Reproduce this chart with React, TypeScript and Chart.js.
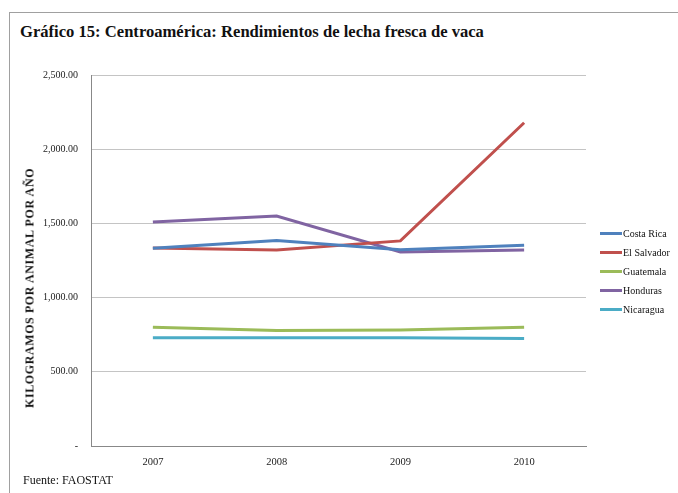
import React, { useEffect, useRef } from "react";
import { Chart, registerables } from "chart.js";

Chart.register(...registerables);

const years = ["2007", "2008", "2009", "2010"];
const costaRica = [1332, 1384, 1323, 1353];
const elSalvador = [1334, 1321, 1382, 2178];
const guatemala = [801, 778, 781, 801];
const honduras = [1509, 1550, 1307, 1321];
const nicaragua = [729, 729, 729, 724];

const seriesNames = ["Costa Rica", "El Salvador", "Guatemala", "Honduras", "Nicaragua"];
const seriesColors = ["#4F81BD", "#C0504D", "#9BBB59", "#8064A2", "#4BACC6"];
const seriesData = [costaRica, elSalvador, guatemala, honduras, nicaragua];

const FONT = "'Liberation Serif', 'DejaVu Serif', serif";

export default function App() {
  const ref = useRef<HTMLCanvasElement | null>(null);

  useEffect(() => {
    if (!ref.current) return;
    const chart = new Chart(ref.current, {
      type: "line",
      data: {
        labels: years,
        datasets: seriesNames.map((n, i) => ({
          label: n,
          data: seriesData[i],
          borderColor: seriesColors[i],
          backgroundColor: seriesColors[i],
          borderWidth: 3,
          pointRadius: 0,
          tension: 0,
        })),
      },
      options: {
        animation: false,
        responsive: false,
        maintainAspectRatio: false,
        layout: { padding: { top: 75, right: 92, bottom: 27, left: 0 } },
        plugins: { legend: { display: false }, tooltip: { enabled: false } },
        scales: {
          x: {
            offset: true,
            grid: { display: false, drawTicks: false },
            border: { display: true, color: "#888888", width: 1 },
            ticks: { color: "#222", font: { family: FONT, size: 10.5 }, padding: 10 },
            afterFit: (s: any) => { s.height = 20; },
          },
          y: {
            min: 0,
            max: 2500,
            grid: { color: "#c4c4c4", drawTicks: false },
            border: { display: true, color: "#888888", width: 1 },
            ticks: {
              stepSize: 500,
              color: "#222",
              font: { family: FONT, size: 10 },
              padding: 13,
              callback: (v: any) =>
                Number(v) === 0
                  ? "-"
                  : Number(v).toLocaleString("en-US", { minimumFractionDigits: 2, maximumFractionDigits: 2 }),
            },
            afterFit: (s: any) => { s.width = 91; },
          },
        },
      },
    });
    return () => chart.destroy();
  }, []);

  return (
    <div style={{ position: "absolute", left: 0, top: 0, width: 678, height: 493, background: "#fff", overflow: "hidden", fontFamily: FONT }}>
      <div style={{ position: "absolute", left: 9, top: 12, width: 700, height: 500, borderLeft: "1px solid #a0a0a0", borderTop: "1px solid #a0a0a0" }} />
      <div style={{ position: "absolute", left: 20, top: 22, fontSize: 16.6, fontWeight: "bold", color: "#111", whiteSpace: "nowrap" }}>
        Gráfico 15: Centroamérica: Rendimientos de lecha fresca de vaca
      </div>
      <canvas ref={ref} width={678} height={493} style={{ position: "absolute", left: 0, top: 0, width: 678, height: 493 }} />
      <div style={{ position: "absolute", left: 30, top: 288, width: 0, height: 0 }}>
        <div style={{ position: "absolute", transform: "translate(-50%, -50%) rotate(-90deg)", whiteSpace: "nowrap", fontSize: 12, letterSpacing: 0.6, fontWeight: "bold", color: "#111" }}>
          KILOGRAMOS POR ANIMAL POR AÑO
        </div>
      </div>
      {seriesNames.map((n, i) => (
        <div key={n} style={{ position: "absolute", left: 600, top: 233 + i * 19 - 7, height: 14, display: "flex", alignItems: "center", fontSize: 10, color: "#111", whiteSpace: "nowrap" }}>
          <span style={{ display: "inline-block", width: 22, height: 3, background: seriesColors[i], marginRight: 1 }} />
          {n}
        </div>
      ))}
      <div style={{ position: "absolute", left: 23, top: 473, fontSize: 12, color: "#111", whiteSpace: "nowrap" }}>
        Fuente: FAOSTAT
      </div>
    </div>
  );
}
